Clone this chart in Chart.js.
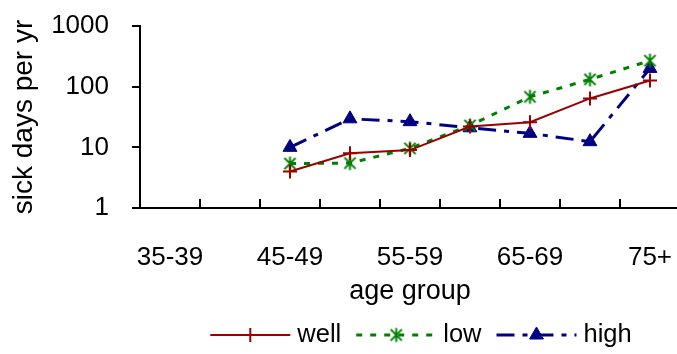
<!DOCTYPE html>
<html>
<head>
<meta charset="utf-8">
<script src="https://cdn.jsdelivr.net/npm/chart.js@4/dist/chart.umd.min.js"></script>
<style>
  html, body { margin: 0; padding: 0; background: #fff; overflow: hidden; }
  #wrap { width: 677px; height: 354px; overflow: hidden; }
  #box { width: 680px; height: 354px; }
</style>
</head>
<body>
<div id="wrap"><div id="box"><canvas id="c" width="680" height="354"></canvas></div></div>
<script>
// Age groups along the x axis
const categories = ['35-39', '40-44', '45-49', '50-54', '55-59', '60-64', '65-69', '70-74', '75+'];
// Sick days per year for each health group
const well = [null, null, 4, 8, 9, 22, 26, 64, 126];
const low  = [null, null, 5.4, 5.5, 9.6, 23, 68, 132, 268];
const high = [null, null, 10, 29.5, 26.5, 21, 17, 12.4, 200];
// Log-axis ticks
const yTicks = [1, 10, 100, 1000];

const FONT = "'Liberation Sans', Arial, sans-serif";
Chart.defaults.font.family = FONT;
Chart.defaults.font.size = 26;
Chart.defaults.color = '#000';

// Six-armed asterisk marker
function asterisk(color) {
  const s = 19, c = document.createElement('canvas');
  c.width = s; c.height = s;
  const g = c.getContext('2d');
  g.strokeStyle = color; g.lineWidth = 2;
  const m = s / 2, r = 7;
  g.beginPath();
  g.moveTo(m, m - r); g.lineTo(m, m + r);
  g.moveTo(m - r * 0.8, m - r * 0.8); g.lineTo(m + r * 0.8, m + r * 0.8);
  g.moveTo(m + r * 0.8, m - r * 0.8); g.lineTo(m - r * 0.8, m + r * 0.8);
  g.stroke();
  return c;
}

// Short upward tick marks at the category boundaries
const innerTicks = {
  id: 'innerTicks',
  afterDraw(chart) {
    const { ctx, chartArea: a } = chart;
    const n = categories.length, w = (a.right - a.left) / n;
    ctx.save();
    ctx.strokeStyle = '#000'; ctx.lineWidth = 2;
    ctx.beginPath();
    for (let i = 1; i <= n; i++) {
      const x = Math.round(a.left + i * w);
      ctx.moveTo(x, a.bottom); ctx.lineTo(x, a.bottom - 9);
    }
    ctx.stroke();
    ctx.restore();
  }
};

// Legend with line samples and markers
const lineLegend = {
  id: 'lineLegend',
  afterDraw(chart) {
    const { ctx } = chart;
    const y = 335, sample = 80, gapText = 7, gapItem = 15, centerX = 421;
    ctx.save();
    ctx.font = '25.5px ' + FONT;
    const items = chart.data.datasets.map(d => ({ d, tw: ctx.measureText(d.label).width }));
    const total = items.reduce((s, it) => s + sample + gapText + it.tw, 0) + gapItem * (items.length - 1);
    let x = centerX - total / 2;
    items.forEach(({ d, tw }) => {
      ctx.save();
      ctx.strokeStyle = d.borderColor; ctx.lineWidth = d.borderWidth;
      ctx.setLineDash(d.borderDash || []);
      ctx.beginPath(); ctx.moveTo(x, y); ctx.lineTo(x + sample, y); ctx.stroke();
      ctx.setLineDash([]);
      ctx.fillStyle = d.pointBackgroundColor; ctx.strokeStyle = d.pointBorderColor;
      ctx.lineWidth = d.pointBorderWidth;
      Chart.helpers.drawPoint(ctx, { pointStyle: d.pointStyle, radius: d.pointRadius, borderWidth: d.pointBorderWidth, rotation: 0 }, x + sample / 2, y);
      ctx.restore();
      ctx.fillStyle = '#000'; ctx.textBaseline = 'middle'; ctx.textAlign = 'left';
      ctx.fillText(d.label, x + sample + gapText, y);
      x += sample + gapText + tw + gapItem;
    });
    ctx.restore();
  }
};

new Chart(document.getElementById('c'), {
  type: 'line',
  data: {
    labels: categories,
    datasets: [
      { label: 'well', data: well, borderColor: '#990000', borderWidth: 2, borderDash: [],
        pointStyle: 'cross', pointRadius: 7, pointBorderWidth: 2,
        pointBorderColor: '#990000', pointBackgroundColor: '#990000', tension: 0 },
      { label: 'low', data: low, borderColor: '#008000', borderWidth: 3, borderDash: [6, 8],
        pointStyle: asterisk('#008000'), pointRadius: 8, pointBorderWidth: 2,
        pointBorderColor: '#008000', pointBackgroundColor: '#008000', tension: 0 },
      { label: 'high', data: high, borderColor: '#000080', borderWidth: 3, borderDash: [18, 8, 5, 8],
        pointStyle: 'triangle', pointRadius: 8, pointBorderWidth: 1,
        pointBorderColor: '#000080', pointBackgroundColor: '#000080', tension: 0 }
    ]
  },
  options: {
    responsive: false,
    animation: false,
    devicePixelRatio: 1,
    layout: { autoPadding: false, padding: { left: 0, right: 0, top: 26, bottom: 46 } },
    plugins: { legend: { display: false }, tooltip: { enabled: false } },
    scales: {
      x: {
        type: 'category',
        offset: true,
        grid: { display: false },
        border: { display: true, color: '#000', width: 2 },
        ticks: {
          autoSkip: false, maxRotation: 0, padding: 26,
          callback: (v, i) => (i % 2 === 0 ? categories[i] : '')
        },
        title: { display: true, text: 'age group', font: { size: 27 }, padding: { top: 0, bottom: 0 } },
        afterFit: s => { s.height = 100; s.paddingLeft = 0; s.paddingRight = 0; }
      },
      y: {
        type: 'logarithmic',
        min: 1, max: 1000,
        afterBuildTicks: s => { s.ticks = yTicks.map(v => ({ value: v })); },
        grid: { display: true, drawOnChartArea: false, drawTicks: true, tickLength: 8, color: '#000', lineWidth: 2 },
        border: { display: true, color: '#000', width: 2 },
        ticks: { padding: 23, callback: v => String(v) },
        title: { display: true, text: 'sick days per yr', font: { size: 28 }, padding: { top: 7, bottom: 0 } },
        afterFit: s => { s.width = 140; s.paddingTop = 0; s.paddingBottom = 0; }
      }
    }
  },
  plugins: [innerTicks, lineLegend]
});
</script>
</body>
</html>
